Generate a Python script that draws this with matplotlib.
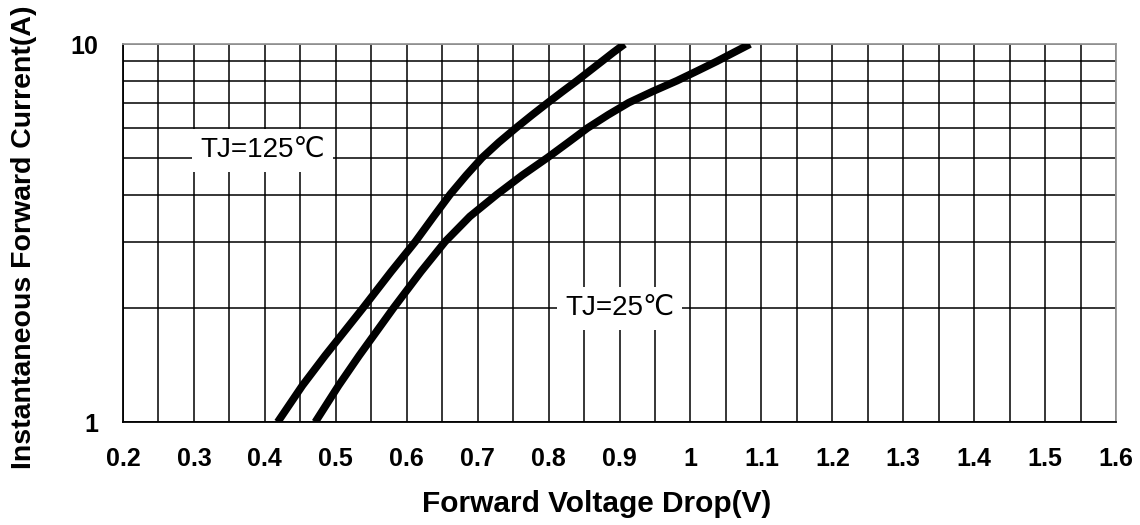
import numpy as np
import matplotlib
matplotlib.use("Agg")
from matplotlib import pyplot as plt
from matplotlib.ticker import FixedLocator, NullFormatter

# Kennlinien
i_125 = [1.0, 1.25, 1.5, 2.0, 2.5, 3.0, 3.5, 4.0, 4.5, 5.0, 5.5, 6.0, 6.5, 7.0, 7.5, 8.0, 8.5, 9.0, 9.5, 10.0]
v_125 = [0.418, 0.453, 0.485, 0.538, 0.578, 0.612, 0.638, 0.661, 0.684, 0.706, 0.730, 0.754, 0.777,
         0.799, 0.820, 0.840, 0.858, 0.875, 0.891, 0.907]

i_25 = [1.0, 1.25, 1.5, 2.0, 2.5, 3.0, 3.5, 4.0, 4.5, 5.0, 5.5, 6.0, 6.5, 7.0, 7.5, 8.0, 8.5, 9.0, 9.5, 10.0]
v_25 = [0.471, 0.504, 0.533, 0.581, 0.620, 0.654, 0.689, 0.727, 0.763, 0.798, 0.828, 0.855, 0.884,
        0.913, 0.947, 0.981, 1.010, 1.037, 1.061, 1.084]

x_ticks = [0.2, 0.3, 0.4, 0.5, 0.6, 0.7, 0.8, 0.9, 1.0, 1.1, 1.2, 1.3, 1.4, 1.5, 1.6]
x_labels = ["0.2", "0.3", "0.4", "0.5", "0.6", "0.7", "0.8", "0.9", "1",
            "1.1", "1.2", "1.3", "1.4", "1.5", "1.6"]
y_ticks = [1, 10]
y_labels = ["1", "10"]

plt.rcParams['font.family'] = ['Liberation Sans', 'DejaVu Sans']

fig = plt.figure(figsize=(11.4, 5.25), dpi=100)
ax = fig.add_axes([0.1079, 0.196, 0.8711, 0.72])

ax.set_yscale("log")
ax.set_xlim(0.2, 1.6)
ax.set_ylim(1, 10)

# Gitter: alle 0.05 V, und 1..10 A
ax.xaxis.set_minor_locator(FixedLocator(np.arange(0.2, 1.6001, 0.05)))
ax.yaxis.set_minor_locator(FixedLocator(np.arange(1, 11)))
ax.yaxis.set_minor_formatter(NullFormatter())
ax.grid(which="minor", color="black", linewidth=1.1, zorder=1)
ax.grid(which="major", color="black", linewidth=1.1, zorder=1)
ax.set_axisbelow(True)

ax.set_xticks(x_ticks)
ax.set_xticklabels(x_labels, fontsize=18, fontweight="bold")
ax.set_yticks(y_ticks)
ax.set_yticklabels(y_labels, fontsize=18, fontweight="bold")
ax.tick_params(which="both", length=0)
ax.tick_params(axis="x", pad=18)
ax.tick_params(axis="y", pad=18)

ax.plot(v_125, i_125, color="black", linewidth=5.5, solid_capstyle="butt",
        solid_joinstyle="round", zorder=3)
ax.plot(v_25, i_25, color="black", linewidth=5.5, solid_capstyle="butt",
        solid_joinstyle="round", zorder=3)

ax.text(0.397, 5.24, "TJ=125℃", fontsize=20, ha="center", va="center", zorder=4,
        bbox=dict(boxstyle="square,pad=0.3", facecolor="white", edgecolor="none"))
ax.text(0.90, 2.0, "TJ=25℃", fontsize=20, ha="center", va="center", zorder=4,
        bbox=dict(boxstyle="square,pad=0.3", facecolor="white", edgecolor="none"))

ax.set_xlabel("Forward Voltage Drop(V)", fontsize=21.5, fontweight="bold")
ax.set_ylabel("Instantaneous Forward Current(A)", fontsize=20.5, fontweight="bold")
ax.xaxis.set_label_coords(0.477, -0.18)
ax.yaxis.set_label_coords(-0.087, 0.489)

ax.spines["left"].set_color("black")
ax.spines["bottom"].set_color("black")
ax.spines["top"].set_color("#999999")
ax.spines["right"].set_color("#999999")
for s in ax.spines.values():
    s.set_linewidth(1.3)

plt.savefig("out.png", dpi=100)
